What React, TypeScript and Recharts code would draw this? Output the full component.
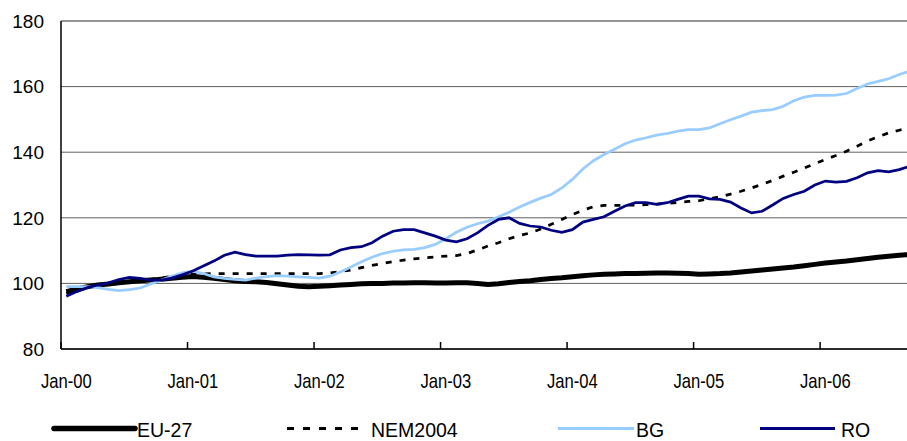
import { CartesianGrid, Legend, Line, LineChart, ReferenceLine, XAxis, YAxis } from "recharts";

// Monthly index, Jan-00 .. Sep-06 (81 months).
const EU27 = [
  97.5, 98.3, 99.0, 99.5, 99.8, 100.2, 100.5, 100.8, 101.0, 101.3, 101.6, 101.9,
  102.1, 101.9, 101.6, 101.2, 100.8, 100.6, 100.5, 100.3, 99.9, 99.5, 99.1, 99.0,
  99.1, 99.3, 99.5, 99.7, 99.9, 100.0, 100.0, 100.1, 100.1, 100.2, 100.2, 100.1,
  100.1, 100.2, 100.2, 100.0, 99.7, 99.9, 100.3, 100.6, 100.8, 101.2, 101.5, 101.7,
  102.0, 102.3, 102.6, 102.8, 102.9, 103.0, 103.0, 103.1, 103.2, 103.2, 103.1, 103.0,
  102.8, 102.9, 103.0, 103.2, 103.5, 103.8, 104.1, 104.4, 104.7, 105.0, 105.4, 105.8,
  106.2, 106.5, 106.8, 107.2, 107.6, 108.0, 108.3, 108.6, 108.8,
];
const NEM2004 = [
  97.0, 97.8, 98.6, 99.3, 99.8, 100.3, 100.7, 101.0, 101.3, 101.7, 102.1, 102.5,
  102.8, 102.9, 103.0, 103.0, 103.0, 103.0, 103.0, 103.0, 103.0, 103.0, 103.0, 103.0,
  103.0, 103.2, 103.6, 104.1, 104.8, 105.5, 106.1, 106.6, 107.1, 107.5, 107.8, 108.1,
  108.3, 108.5, 109.1, 110.2, 111.4, 112.4, 113.6, 114.6, 115.4, 116.6, 118.0, 119.5,
  121.0, 122.3, 123.4, 123.8, 123.8, 123.8, 123.9, 124.0, 124.2, 124.4, 124.7, 125.0,
  125.2, 125.8, 126.4, 127.2, 128.1, 129.1, 130.2, 131.4, 132.7, 133.9, 135.2, 136.5,
  137.8, 139.0, 140.3, 141.8, 143.4, 144.7, 145.9, 146.7, 147.4,
];
const BG = [
  99.0, 99.0, 99.0, 98.7, 98.2, 97.8, 98.1, 98.6, 99.8, 101.0, 102.2, 103.2,
  103.7, 103.0, 102.0, 101.5, 101.2, 101.0, 101.6, 102.1, 102.4, 102.2, 102.0, 101.8,
  101.6, 102.2, 103.5, 105.0, 106.6, 108.0, 109.1, 109.8, 110.2, 110.4, 110.9, 111.9,
  113.6, 115.6, 117.1, 118.2, 119.0, 120.3, 121.7, 123.3, 124.7, 126.0, 127.1, 129.1,
  131.7, 134.9, 137.4, 139.3, 140.9, 142.6, 143.7, 144.4, 145.2, 145.7, 146.4, 146.9,
  146.9, 147.4, 148.7, 149.9, 151.0, 152.2, 152.7, 153.0, 154.0, 155.7, 156.8, 157.3,
  157.3, 157.4, 157.9, 159.4, 160.8, 161.6, 162.4, 163.7, 164.7,
];
const RO = [
  96.1, 97.5, 98.7, 99.5, 100.2, 101.2, 101.8, 101.5, 101.0, 101.0, 101.6, 102.6,
  103.8, 105.3, 106.8, 108.6, 109.5, 108.8, 108.3, 108.3, 108.3, 108.6, 108.8, 108.7,
  108.6, 108.7, 110.2, 110.9, 111.2, 112.4, 114.4, 115.9, 116.4, 116.4, 115.4, 114.4,
  113.2, 112.7, 113.6, 115.4, 117.7, 119.5, 120.0, 118.3, 117.5, 117.2, 116.2, 115.6,
  116.4, 118.7, 119.5, 120.3, 122.0, 123.6, 124.6, 124.6, 124.1, 124.6, 125.6, 126.6,
  126.6, 125.8, 125.6, 124.8, 123.0, 121.5, 122.0, 123.9, 125.9, 127.1, 128.1, 130.0,
  131.2, 130.9, 131.1, 132.2, 133.7, 134.4, 134.0, 134.7, 135.7,
];

const TICK_LABELS = ["Jan-00", "Jan-01", "Jan-02", "Jan-03", "Jan-04", "Jan-05", "Jan-06"];
const Y_TICKS = [80, 100, 120, 140, 160, 180];

const data = EU27.map((v, i) => ({ i, eu: v, nem: NEM2004[i], bg: BG[i], ro: RO[i] }));

const WIDTH = 916;
const HEIGHT = 441;
const Y_AXIS_W = 61;
const RIGHT = 1;
const N = EU27.length;
const HALF_STEP = (WIDTH - Y_AXIS_W - RIGHT) / N / 2;
const FONT = "Arial, 'Liberation Sans', sans-serif";

const COLORS = { eu: "#000000", nem: "#000000", bg: "#99CCFF", ro: "#000080" };

function MonthTick({ x, y, payload }: any) {
  const label = TICK_LABELS[Math.round(payload.value / 12)];
  return (
    <g>
      <line x1={x - HALF_STEP} x2={x - HALF_STEP} y1={y} y2={y - 7} stroke="#000" strokeWidth={1.5} />
      <text
        transform={`translate(${x},${y + 39}) scale(0.81,1)`}
        textAnchor="middle"
        fontSize={20.5}
        fontFamily={FONT}
        fill="#000"
      >
        {label}
      </text>
    </g>
  );
}

// legend sits at the very bottom edge, as in the source
function LegendBox() {
  const t = { fontSize: 19.5, fontFamily: FONT, fill: "#000" };
  const ly = 23.5;
  const ty = 32;
  return (
    <svg width={WIDTH} height={36} style={{ display: "block", overflow: "visible" }}>
      <line x1={54} x2={135} y1={ly} y2={ly} stroke={COLORS.eu} strokeWidth={5.5} strokeLinecap="round" />
      <text x={137} y={ty} {...t}>EU-27</text>
      <line x1={287} x2={358} y1={ly} y2={ly} stroke={COLORS.nem} strokeWidth={3} strokeDasharray="7 9" />
      <text x={371} y={ty} {...t}>NEM2004</text>
      <line x1={558} x2={634} y1={ly} y2={ly} stroke={COLORS.bg} strokeWidth={3} />
      <text x={636} y={ty} {...t}>BG</text>
      <line x1={760} x2={835} y1={ly} y2={ly} stroke={COLORS.ro} strokeWidth={3} />
      <text x={841} y={ty} {...t}>RO</text>
    </svg>
  );
}

export default function App() {
  return (
    <div style={{ position: "absolute", left: 0, top: 0, width: WIDTH, height: HEIGHT, background: "#fff" }}>
      <LineChart width={WIDTH} height={HEIGHT} data={data} margin={{ top: 21, right: RIGHT, left: 0, bottom: 0 }}>
        <CartesianGrid vertical={false} stroke="#606060" />
        <ReferenceLine y={180} stroke="#8c8c8c" strokeWidth={1.5} />
        <XAxis
          dataKey="i"
          type="number"
          domain={[-0.5, N - 0.5]}
          ticks={[0, 12, 24, 36, 48, 60, 72]}
          allowDataOverflow
          height={56}
          tickSize={0}
          tickMargin={0}
          tickLine={false}
          tick={<MonthTick />}
          axisLine={{ stroke: "#000", strokeWidth: 1.5 }}
        />
        <YAxis
          domain={[80, 180]}
          ticks={Y_TICKS}
          width={Y_AXIS_W}
          tickSize={0}
          tickMargin={17}
          tickLine={false}
          axisLine={{ stroke: "#000", strokeWidth: 1.5 }}
          tick={{ fontSize: 19, fontFamily: FONT, fill: "#000" }}
        />
        <Legend verticalAlign="bottom" height={36} content={() => <LegendBox />} wrapperStyle={{ left: 0, bottom: 0 }} />
        <Line type="linear" dataKey="eu" stroke={COLORS.eu} strokeWidth={5} dot={false} isAnimationActive={false} />
        <Line
          type="linear"
          dataKey="nem"
          stroke={COLORS.nem}
          strokeWidth={2.75}
          strokeDasharray="6 8"
          dot={false}
          isAnimationActive={false}
        />
        <Line type="linear" dataKey="bg" stroke={COLORS.bg} strokeWidth={2.75} dot={false} isAnimationActive={false} />
        <Line type="linear" dataKey="ro" stroke={COLORS.ro} strokeWidth={2.75} dot={false} isAnimationActive={false} />
      </LineChart>
    </div>
  );
}
